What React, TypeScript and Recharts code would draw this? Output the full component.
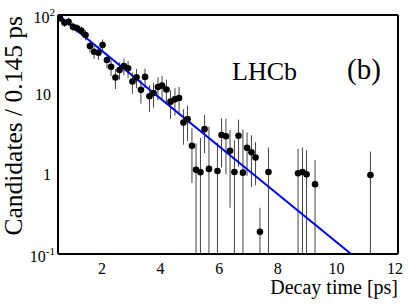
import React from "react";
import { ScatterChart, Scatter, XAxis, YAxis, ErrorBar, Customized } from "recharts";

// decay time bin centres [ps] (bin width 0.145 ps), only non-empty bins
const decayTime = [
  0.57, 0.72, 0.86, 1.01, 1.15, 1.3, 1.44, 1.59, 1.73, 1.88,
  2.02, 2.17, 2.31, 2.46, 2.6, 2.75, 2.89, 3.04, 3.18, 3.33,
  3.47, 3.62, 3.76, 3.91, 4.05, 4.2, 4.34, 4.49, 4.63, 4.78,
  4.92, 5.07, 5.21, 5.36, 5.5, 5.65,
  5.94, 6.08, 6.23, 6.37, 6.52, 6.66, 6.81, 6.95, 7.1, 7.24, 7.39,
  7.68, 8.69, 8.84, 8.98, 9.27, 11.16,
];
const candidates = [
  90.9, 80.1, 82.4, 71.3, 68.1, 63.5, 56.1, 40.8, 34.6, 33.6,
  42.0, 27.2, 22.4, 16.4, 20.4, 22.9, 21.4, 14.6, 16.5, 11.5,
  16.7, 9.55, 10.5, 12.5, 13.0, 11.6, 8.17, 8.76, 9.1, 4.46,
  4.93, 2.28, 1.14, 1.06, 3.69, 1.17,
  1.1, 3.12, 3.0, 1.98, 1.07, 3.05, 1.05, 2.16, 1.89, 1.63, 0.19,
  1.07, 1.03, 1.07, 1.0, 0.75, 0.98,
];
const candErr = [
  10, 9.5, 9.5, 9, 8.7, 8.5, 8, 7, 6.5, 6.4,
  7.3, 5.8, 5.3, 4.6, 5, 5.4, 5.2, 4.3, 4.5, 3.8,
  4.6, 3.5, 3.6, 4, 4.1, 3.8, 3.2, 3.3, 3.4, 2.1,
  2.3, 1.5, 1.3, 1.8, 1.85, 2.8,
  1.4, 1.9, 2.0, 1.6, 1.6, 1.8, 2.6, 1.2, 1.2, 0.9, 0.19,
  1.1, 1.05, 1.1, 1.0, 0.76, 0.95,
];

// exponential fit, straight on the log axis
const fitTime = [0.5, 10.5];
const fitValue = [100, 0.1];

const X_DOMAIN = [0.5, 12.1];
const Y_DOMAIN = [0.1, 100];

const xMajorTicks = [2, 4, 6, 8, 10, 12];
const xMinorTicks = [1, 1.5, 2.5, 3, 3.5, 4.5, 5, 5.5, 6.5, 7, 7.5, 8.5, 9, 9.5, 10.5, 11, 11.5];
const yMajorTicks = [0.1, 1, 10, 100];
const yMinorTicks = [
  0.2, 0.3, 0.4, 0.5, 0.6, 0.7, 0.8, 0.9,
  2, 3, 4, 5, 6, 7, 8, 9,
  20, 30, 40, 50, 60, 70, 80, 90,
];
const yTickBase = ["10", "1", "10", "10"];
const yTickExp = ["-1", "", "", "2"];

const FONT = "Liberation Serif, Times New Roman, serif";

const points = decayTime.map((t, i) => ({
  t,
  n: candidates[i],
  err: [Math.min(candErr[i], candidates[i] - Y_DOMAIN[0]), candErr[i]],
}));
const fitData = fitTime.map((t, i) => ({ t, n: fitValue[i] }));

function YTick({ x, y, payload }: any) {
  const i = yMajorTicks.indexOf(payload.value);
  const exp = yTickExp[i];
  if (!exp) {
    return (
      <text x={x} y={y + 5.5} textAnchor="end" fontSize={16} fontFamily={FONT} fill="#000">
        {yTickBase[i]}
      </text>
    );
  }
  return (
    <text x={x + 4} y={y + 8} textAnchor="end" fontSize={16} fontFamily={FONT} fill="#000">
      {yTickBase[i]}
      <tspan dy={-7} fontSize={11}>{exp}</tspan>
    </text>
  );
}

const Dot = (p: any) => <circle cx={p.cx} cy={p.cy} r={3.3} fill="#000" />;
const NoDot = () => <g />;

const frame = { stroke: "#000", strokeWidth: 2 };
const thin = { stroke: "#000", strokeWidth: 1 };

function Texts() {
  return (
    <g fontFamily={FONT} fill="#000">
      <text x={232} y={80} fontSize={26}>LHCb</text>
      <text x={347} y={79} fontSize={29}>(b)</text>
      <text x={398} y={294} fontSize={20} textAnchor="end">Decay time [ps]</text>
      <text x={22} y={16} fontSize={25.5} textAnchor="end" transform="rotate(-90 22 16)">
        Candidates / 0.145 ps
      </text>
    </g>
  );
}

export default function App() {
  return (
    <div style={{ position: "absolute", left: 0, top: 0, background: "#fff" }}>
      <ScatterChart width={419} height={304} margin={{ top: 15, right: 21, left: 0, bottom: 0 }}>
        {/* labelled axes */}
        <XAxis
          xAxisId="x"
          type="number"
          dataKey="t"
          domain={X_DOMAIN}
          allowDataOverflow
          ticks={xMajorTicks}
          interval={0}
          height={50}
          tickSize={0}
          tickMargin={9}
          tickLine={false}
          axisLine={frame}
          tick={{ fontSize: 16, fill: "#000", fontFamily: FONT }}
        />
        <YAxis
          yAxisId="y"
          type="number"
          dataKey="n"
          scale="log"
          domain={Y_DOMAIN}
          allowDataOverflow
          ticks={yMajorTicks}
          interval={0}
          width={58}
          tickSize={0}
          tickMargin={7}
          tickLine={false}
          axisLine={frame}
          tick={<YTick />}
        />
        {/* inward tick marks on all four sides */}
        <XAxis xAxisId="xb" type="number" domain={X_DOMAIN} allowDataOverflow ticks={xMajorTicks} interval={0} mirror tick={false} tickSize={8} tickLine={thin} axisLine={false} />
        <XAxis xAxisId="xbm" type="number" domain={X_DOMAIN} allowDataOverflow ticks={xMinorTicks} interval={0} mirror tick={false} tickSize={4} tickLine={thin} axisLine={false} />
        <XAxis xAxisId="xt" orientation="top" type="number" domain={X_DOMAIN} allowDataOverflow ticks={xMajorTicks} interval={0} mirror tick={false} tickSize={8} tickLine={thin} axisLine={frame} />
        <XAxis xAxisId="xtm" orientation="top" type="number" domain={X_DOMAIN} allowDataOverflow ticks={xMinorTicks} interval={0} mirror tick={false} tickSize={4} tickLine={thin} axisLine={false} />
        <YAxis yAxisId="yl" type="number" scale="log" domain={Y_DOMAIN} allowDataOverflow ticks={yMajorTicks} interval={0} mirror tick={false} tickSize={8} tickLine={thin} axisLine={false} />
        <YAxis yAxisId="ylm" type="number" scale="log" domain={Y_DOMAIN} allowDataOverflow ticks={yMinorTicks} interval={0} mirror tick={false} tickSize={4} tickLine={thin} axisLine={false} />
        <YAxis yAxisId="yr" orientation="right" type="number" scale="log" domain={Y_DOMAIN} allowDataOverflow ticks={yMajorTicks} interval={0} mirror tick={false} tickSize={8} tickLine={thin} axisLine={frame} />
        <YAxis yAxisId="yrm" orientation="right" type="number" scale="log" domain={Y_DOMAIN} allowDataOverflow ticks={yMinorTicks} interval={0} mirror tick={false} tickSize={4} tickLine={thin} axisLine={false} />

        <Scatter
          xAxisId="x"
          yAxisId="y"
          data={fitData}
          line={{ stroke: "#0000ff", strokeWidth: 2 }}
          shape={NoDot}
          isAnimationActive={false}
        />
        <Scatter xAxisId="x" yAxisId="y" data={points} shape={Dot} isAnimationActive={false}>
          <ErrorBar dataKey="err" direction="y" width={0} stroke="#444" strokeWidth={1} />
        </Scatter>
        <Customized component={Texts} />
      </ScatterChart>
    </div>
  );
}
